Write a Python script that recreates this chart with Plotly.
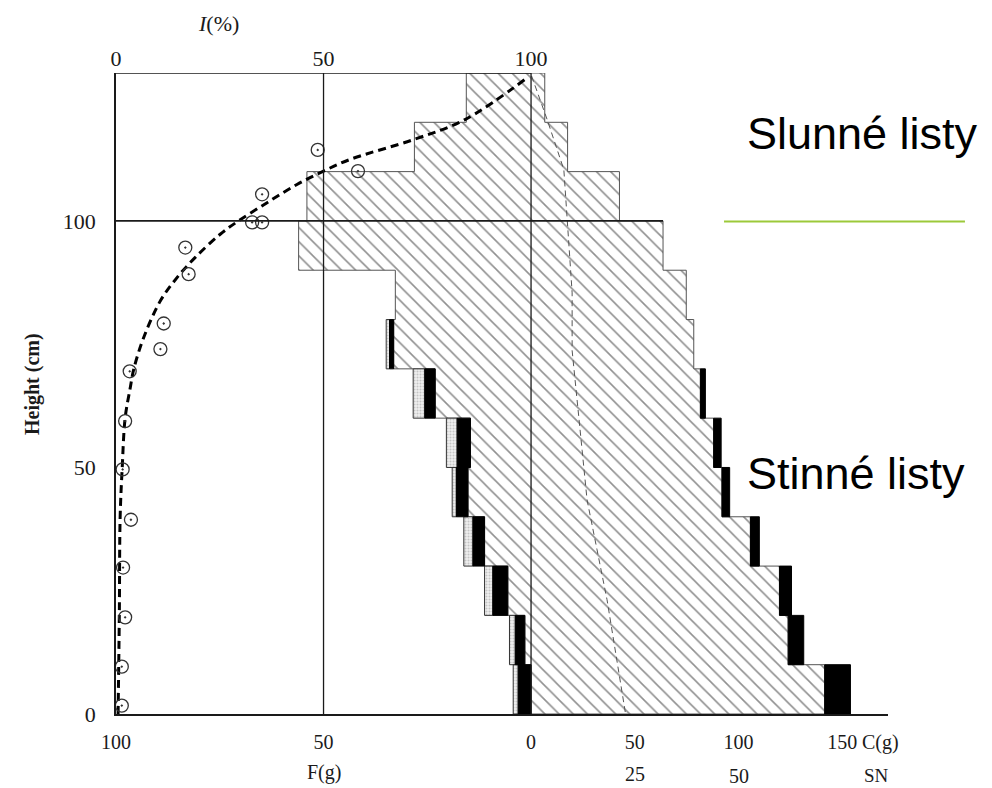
import plotly.graph_objects as go

# ---------------- data ----------------
layer_bottom = [0, 10, 20, 30, 40, 50, 60, 70, 80, 90, 100, 110, 120]
layer_step = 10
# left side (F, g): green leaves (hatched), black part, stippled part
F_green = [0.0, 1.5, 5.6, 11.2, 15.2, 14.6, 23.1, 33.1, 32.7, 56.0, 54.0, 28.1, 15.6]
F_black = [3.1, 2.3, 3.6, 2.8, 2.8, 3.2, 2.5, 1.0, 0, 0, 0, 0, 0]
F_stip = [1.2, 1.4, 2.0, 2.2, 1.0, 2.6, 2.8, 0.8, 0, 0, 0, 0, 0]
# right side (C, g): hatched part and black part
C_green = [141.5, 123.9, 119.7, 105.7, 92.0, 88.0, 81.6, 78.4, 74.8, 63.6, 42.6, 17.6, 6.6]
C_black = [12.4, 7.5, 5.8, 4.3, 3.7, 3.6, 2.4, 0, 0, 0, 0, 0, 0]
C_scale = 0.5          # C axis is drawn at half the F scale (C 50 = SN 25)

# light intensity I(%)
I_obs_h = [1.7, 9.6, 19.6, 29.7, 39.4, 49.6, 59.4, 69.5, 74.0, 79.2, 89.2, 94.6, 99.7, 99.7, 105.4, 110.1, 114.4]
I_obs = [1.4, 1.4, 2.2, 1.7, 3.6, 1.6, 2.2, 3.3, 10.7, 11.5, 17.5, 16.7, 32.8, 35.2, 35.2, 58.3, 48.6]
I_fit_h = [0, 20, 40, 50, 60, 66, 70, 76.4, 83.8, 88.5, 92.6, 97.3, 100, 103.7, 107.4, 110.1, 112.5, 116.5, 120.6, 129.0]
I_fit = [0.5, 0.8, 1.0, 1.5, 2.2, 3.4, 4.3, 6.7, 10.7, 14.7, 19.1, 25.1, 29.5, 36.4, 43.6, 50.0, 56.5, 71.7, 84.2, 99.0]

# SN dashed profile
SN_h = [0.4, 13.1, 23.2, 33.3, 43.4, 53.5, 63.6, 73.7, 85.4, 100.2, 110.4, 120.5, 129.7]
SN = [22.7, 20.3, 18.3, 15.9, 13.5, 12.3, 11.1, 9.9, 9.9, 8.7, 7.9, 3.9, 0.0]

# axes / ticks
x_range = [-100, 86]
h_range = [0, 130]
I_ticks = [0, 50, 100]
h_ticks = [0, 50, 100]
F_ticks = [100, 50, 0]
C_ticks = [50, 100, 150]
SN_ticks = [25, 50]

SERIF = "Liberation Serif"
SANS = "Liberation Sans"
INK = "#1a1a1a"


def px_x(v):
    """data x -> paper x"""
    return (v - x_range[0]) / (x_range[1] - x_range[0])


fig = go.Figure()

# ---------------- hatched polygon (F green + C green) ----------------
px, py = [], []
for b, c in zip(layer_bottom, C_green):
    px += [c * C_scale, c * C_scale]
    py += [b, b + layer_step]
for b, f in zip(reversed(layer_bottom), reversed(F_green)):
    px += [-f, -f]
    py += [b + layer_step, b]
px.append(px[0]); py.append(py[0])
fig.add_trace(go.Scatter(
    x=px, y=py, mode="lines", fill="toself",
    fillcolor="white",
    fillpattern=dict(shape="\\", fgcolor="#222222", bgcolor="white", size=10, solidity=0.16),
    line=dict(color="#555555", width=1), hoverinfo="skip", showlegend=False))

# ---------------- black / stippled bars ----------------
def rects(x0s, x1s, bots):
    xs, ys = [], []
    for a, b2, h in zip(x0s, x1s, bots):
        if abs(b2 - a) < 1e-9:
            continue
        xs += [a, b2, b2, a, a, None]
        ys += [h, h, h + layer_step, h + layer_step, h, None]
    return xs, ys

# stippled (left)
s0 = [-(g + k) for g, k in zip(F_green, F_black)]
s1 = [-(g + k + s) for g, k, s in zip(F_green, F_black, F_stip)]
sx, sy = rects(s0, s1, layer_bottom)
fig.add_trace(go.Scatter(
    x=sx, y=sy, mode="lines", fill="toself", fillcolor="#e6e6e6",
    fillpattern=dict(shape=".", fgcolor="#9a9a9a", bgcolor="#eeeeee", size=3, solidity=0.35),
    line=dict(color="#333", width=1), hoverinfo="skip", showlegend=False, cliponaxis=False))

# black (left)
b0 = [-g for g in F_green]
b1 = [-(g + k) for g, k in zip(F_green, F_black)]
bx, by = rects(b0, b1, layer_bottom)
fig.add_trace(go.Scatter(
    x=bx, y=by, mode="lines", fill="toself", fillcolor="black",
    line=dict(color="black", width=1), hoverinfo="skip", showlegend=False, cliponaxis=False))

# black (right)
r0 = [c * C_scale for c in C_green]
r1 = [(c + k) * C_scale for c, k in zip(C_green, C_black)]
rx, ry = rects(r0, r1, layer_bottom)
fig.add_trace(go.Scatter(
    x=rx, y=ry, mode="lines", fill="toself", fillcolor="black",
    line=dict(color="black", width=1), hoverinfo="skip", showlegend=False, cliponaxis=False))

# ---------------- SN thin dashed line ----------------
fig.add_trace(go.Scatter(
    x=SN, y=SN_h, mode="lines", line=dict(color="#555", width=1, dash="6px,4px"),
    hoverinfo="skip", showlegend=False))

# ---------------- I(%) curve and observations (top axis) ----------------
fig.add_trace(go.Scatter(
    x=I_fit, y=I_fit_h, xaxis="x2", mode="lines", line=dict(color="black", width=3, dash="8px,5px"),
    line_shape="spline", hoverinfo="skip", showlegend=False, cliponaxis=False))
fig.add_trace(go.Scatter(
    x=I_obs, y=I_obs_h, xaxis="x2", mode="markers",
    marker=dict(symbol="circle-open-dot", size=13, color="#333", line=dict(width=1.3, color="#333")),
    hoverinfo="skip", showlegend=False, cliponaxis=False))

# ---------------- frame lines ----------------
shapes = []
for t in I_ticks[1:]:
    xv = t - 100
    shapes.append(dict(type="line", xref="x", yref="y", x0=xv, x1=xv, y0=h_range[0], y1=h_range[1],
                       line=dict(color=INK, width=1.3), layer="above"))
shapes.append(dict(type="line", xref="x", yref="y", x0=x_range[0], x1=I_ticks[-1] - 100,
                   y0=h_range[1], y1=h_range[1], line=dict(color=INK, width=1.3), layer="above"))
shapes.append(dict(type="line", xref="x", yref="y", x0=x_range[0], x1=C_green[9] * C_scale,
                   y0=h_ticks[-1], y1=h_ticks[-1], line=dict(color=INK, width=1.6), layer="above"))
# green separator line next to labels
shapes.append(dict(type="line", xref="paper", yref="paper", x0=0.7876, x1=1.0997,
                   y0=(714 - 221.5) / 641, y1=(714 - 221.5) / 641,
                   line=dict(color="#9cc93a", width=2.2)))

tick_font = dict(family=SERIF, size=22, color=INK)
bottom_font = dict(family=SERIF, size=20, color=INK)
annotations = []


def note(x, y, text, font, **kw):
    d = dict(x=x, y=y, xref="paper", yref="paper", text=text, showarrow=False, font=font,
             xanchor="center", yanchor="middle")
    d.update(kw)
    annotations.append(d)


# second bottom row
note(px_x(-F_ticks[1]), -0.0905, "F(g)", bottom_font)
for s, dy in zip(SN_ticks, [-0.094, -0.096]):
    note(px_x(s), dy, str(s), bottom_font)
note(0.9845, -0.096, "SN", dict(family=SERIF, size=19, color=INK))
note(0.9905, -0.045, "C(g)", bottom_font)
note(0.1334, 1.078, "<i>I</i>(%)", tick_font)
note(-0.1088, 0.5148, "<b>Height (cm)</b>", dict(family=SERIF, size=20, color=INK), textangle=-90)
annotations.append(dict(x=51.6, y=117.7, xref="x", yref="y", xanchor="left", yanchor="middle",
                        text="Slunné listy", showarrow=False, font=dict(family=SANS, size=45, color="black")))
annotations.append(dict(x=51.6, y=48.7, xref="x", yref="y", xanchor="left", yanchor="middle",
                        text="Stinné listy", showarrow=False, font=dict(family=SANS, size=45, color="black")))

bottom_vals = [-f for f in F_ticks] + [c * C_scale for c in C_ticks]
bottom_text = [str(f) for f in F_ticks] + [str(c) for c in C_ticks]

fig.update_layout(
    width=992, height=788,
    margin=dict(l=116, r=104, t=73, b=74),
    paper_bgcolor="white", plot_bgcolor="white",
    shapes=shapes, annotations=annotations,
    xaxis=dict(range=x_range, showgrid=False, zeroline=False, showline=True, linecolor=INK, linewidth=1.5,
               tickmode="array", tickvals=bottom_vals, ticktext=bottom_text, ticks="",
               ticklabelstandoff=9, tickfont=bottom_font),
    xaxis2=dict(range=[x_range[0] + 100, x_range[1] + 100], overlaying="x", side="top",
                showgrid=False, zeroline=False, showline=False,
                tickmode="array", tickvals=I_ticks, ticktext=[str(t) for t in I_ticks], ticks="",
                ticklabelstandoff=2, tickfont=tick_font),
    yaxis=dict(range=h_range, showgrid=False, zeroline=False, showline=True, linecolor=INK, linewidth=1.5,
               tickmode="array", tickvals=h_ticks, ticktext=[str(t) for t in h_ticks], ticks="",
               ticklabelstandoff=14, tickfont=tick_font),
)

fig.write_html("out.html")
